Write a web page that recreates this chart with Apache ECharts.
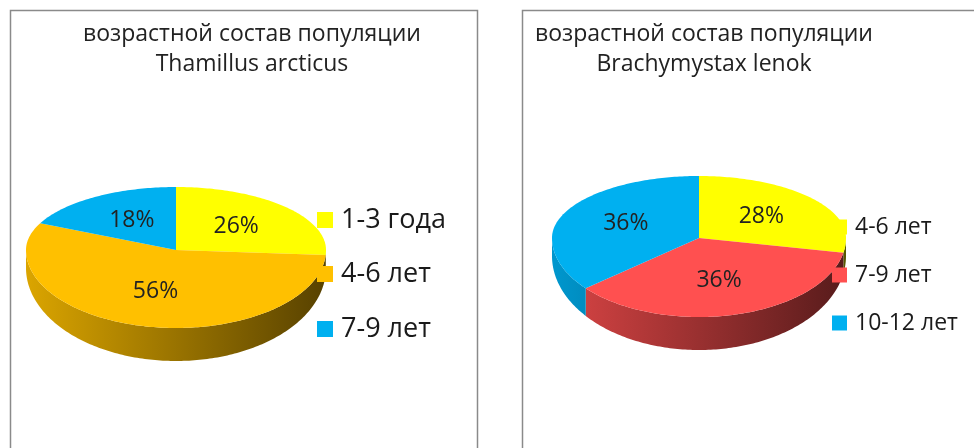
<!DOCTYPE html>
<html>
<head>
<meta charset="utf-8">
<script src="https://cdn.jsdelivr.net/npm/echarts@6/dist/echarts.min.js"></script>
<style>
html, body { margin: 0; padding: 0; background: #fff; }
#chart { width: 974px; height: 448px; }
</style>
</head>
<body>
<div id="chart"></div>
<script>
// данные
const leftTitle = 'возрастной состав популяции\nThamillus arcticus'
const leftNames = ['1-3 года', '4-6 лет', '7-9 лет']
const leftValues = [26, 56, 18]

const rightTitle = 'возрастной состав популяции\nBrachymystax lenok'
const rightNames = ['4-6 лет', '7-9 лет', '10-12 лет']
const rightValues = [28, 36, 36]

// стили
const leftColors = ['#FFFF00', '#FFC000', '#00B0F0']
const rightColors = ['#FFFF00', '#FF5050', '#00B0F0']
const FONT = 'Open Sans'

const leftGeo = {
  cx: 176, cy: 250, rx: 150, ryBack: 63, ryFront: 78, depthEdge: 18, depthFront: 33,
  legX: 317, legY: [220, 274, 329], legSize: 16, legFont: 27, labFont: 23
}
const rightGeo = {
  cx: 699, cy: 238, rx: 147, ryBack: 62, ryFront: 79, depthEdge: 18, depthFront: 33,
  legX: 832, legY: [227, 275, 323], legSize: 15, legFont: 23, labFont: 23
}

function shade(hex, k) {
  const n = parseInt(hex.slice(1), 16)
  const r = Math.round(((n >> 16) & 255) * k)
  const g = Math.round(((n >> 8) & 255) * k)
  const b = Math.round((n & 255) * k)
  return 'rgb(' + r + ',' + g + ',' + b + ')'
}

// угол в градусах по часовой от 12 часов
function topPt(geo, a) {
  const rad = a * Math.PI / 180
  const c = Math.cos(rad)
  const ry = c > 0 ? geo.ryBack : geo.ryFront
  return [geo.cx + geo.rx * Math.sin(rad), geo.cy - ry * c]
}
function botPt(geo, a) {
  const p = topPt(geo, a)
  const c = Math.cos(a * Math.PI / 180)
  return [p[0], p[1] + geo.depthEdge + (geo.depthFront - geo.depthEdge) * Math.max(0, -c)]
}

function startAngles(values) {
  const total = values.reduce((s, v) => s + v, 0)
  const res = []
  let acc = 0
  values.forEach(v => {
    res.push([acc / total * 360, (acc + v) / total * 360])
    acc += v
  })
  return res
}

function makeSeries(names, values, colors, geo) {
  const ang = startAngles(values)
  const total = values.reduce((s, v) => s + v, 0)
  const sides = {
    type: 'custom',
    coordinateSystem: 'none',
    z: 1,
    silent: true,
    data: values,
    renderItem: function (params, api) {
      const i = params.dataIndex
      const s = Math.max(ang[i][0], 90)
      const e = Math.min(ang[i][1], 270)
      if (e <= s) return null
      const pts = []
      for (let a = s; a <= e; a += 1) pts.push(topPt(geo, a))
      pts.push(topPt(geo, e))
      for (let a = e; a >= s; a -= 1) pts.push(botPt(geo, a))
      pts.push(botPt(geo, s))
      return {
        type: 'polygon',
        shape: { points: pts },
        style: {
          fill: {
            type: 'linear', global: true,
            x: geo.cx - geo.rx, y: 0, x2: geo.cx + geo.rx, y2: 0,
            colorStops: [
              { offset: 0, color: shade(colors[i], 0.86) },
              { offset: 1, color: shade(colors[i], 0.34) }
            ]
          }
        }
      }
    }
  }
  const tops = {
    type: 'custom',
    coordinateSystem: 'none',
    z: 2,
    silent: true,
    data: values,
    renderItem: function (params, api) {
      const i = params.dataIndex
      const v = api.value(0)
      const s = ang[i][0], e = ang[i][1]
      const pts = [[geo.cx, geo.cy]]
      for (let a = s; a <= e; a += 1) pts.push(topPt(geo, a))
      pts.push(topPt(geo, e))
      const mid = (s + e) / 2
      const rad = mid * Math.PI / 180
      const c = Math.cos(rad)
      const ry = c > 0 ? geo.ryBack : geo.ryFront
      const lx = geo.cx + 0.55 * geo.rx * Math.sin(rad)
      const ly = geo.cy - 0.55 * ry * c
      const ly0 = geo.legY[i]
      return {
        type: 'group',
        children: [
          { type: 'polygon', shape: { points: pts }, style: { fill: colors[i] } },
          {
            type: 'text', x: lx, y: ly,
            style: {
              text: Math.round(v / total * 100) + '%',
              fontFamily: FONT, fontSize: geo.labFont, fill: '#222',
              align: 'center', verticalAlign: 'middle'
            }
          },
          {
            type: 'rect',
            shape: { x: geo.legX, y: ly0 - geo.legSize / 2, width: geo.legSize, height: geo.legSize },
            style: { fill: colors[i] }
          },
          {
            type: 'text', x: geo.legX + geo.legSize + 8, y: ly0,
            style: {
              text: names[i], fontFamily: FONT, fontSize: geo.legFont, fill: '#1a1a1a',
              align: 'left', verticalAlign: 'middle'
            }
          }
        ]
      }
    }
  }
  return [sides, tops]
}

const chart = echarts.init(document.getElementById('chart'), null, { renderer: 'canvas' })
const option = {
  animation: false,
  backgroundColor: '#ffffff',
  title: [
    {
      text: leftTitle, left: 247, top: 14, textAlign: 'center',
      textStyle: { fontFamily: FONT, fontSize: 23, fontWeight: 'normal', color: '#222', lineHeight: 30 }
    },
    {
      text: rightTitle, left: 699, top: 14, textAlign: 'center',
      textStyle: { fontFamily: FONT, fontSize: 23, fontWeight: 'normal', color: '#222', lineHeight: 30 }
    }
  ],
  graphic: [
    { type: 'rect', shape: { x: 10.5, y: 10.5, width: 467, height: 460 }, style: { fill: 'none', stroke: '#8a8a8a', lineWidth: 1.5 } },
    { type: 'rect', shape: { x: 522.5, y: 10.5, width: 470, height: 460 }, style: { fill: 'none', stroke: '#8a8a8a', lineWidth: 1.5 } }
  ],
  series: [].concat(
    makeSeries(leftNames, leftValues, leftColors, leftGeo),
    makeSeries(rightNames, rightValues, rightColors, rightGeo)
  )
}
chart.setOption(option)
</script>
</body>
</html>
